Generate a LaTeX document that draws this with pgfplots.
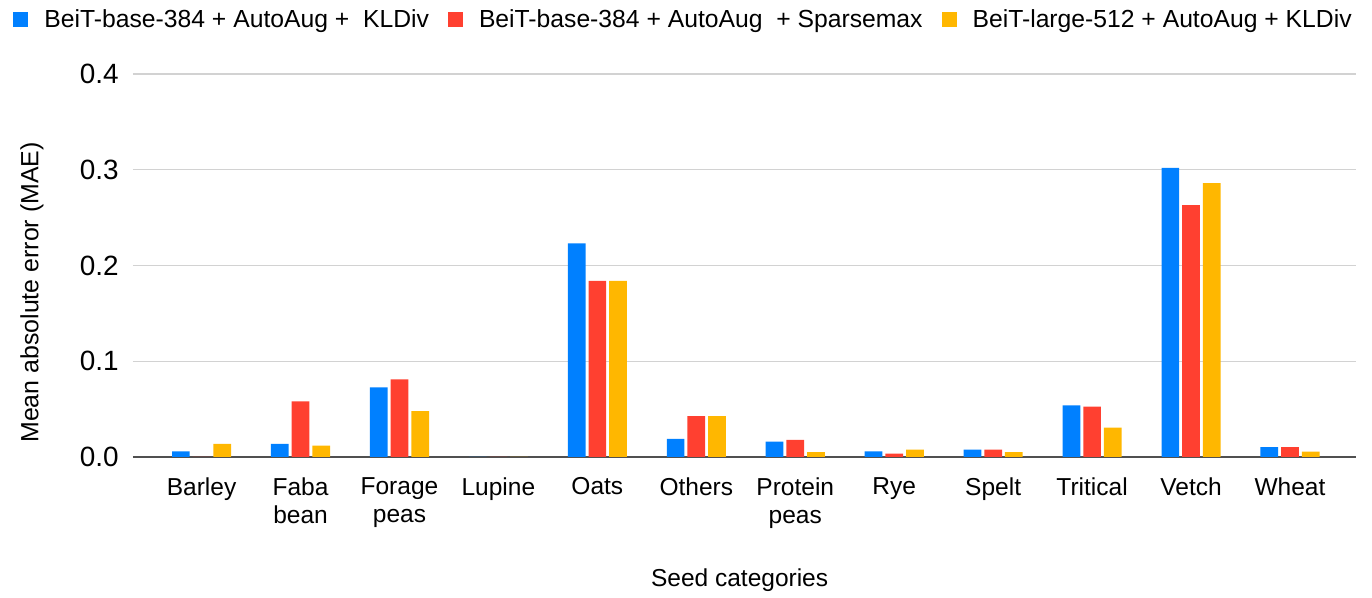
\documentclass[border=0pt]{standalone}
\usepackage{pgfplots}
\pgfplotsset{compat=1.18}
\usepackage{pgfplotstable}
\usepackage{fontspec}
\setmainfont{Liberation Sans}
\definecolor{cblue}{RGB}{0,128,255}
\definecolor{cred}{RGB}{255,64,48}
\definecolor{cyel}{RGB}{255,183,0}
\definecolor{gridc}{RGB}{210,210,210}
\definecolor{axc}{RGB}{80,80,80}
\pgfplotstableread{
idx blue red yel
0 0.006 0 0.0136
1 0.0136 0.058 0.0118
2 0.0727 0.081 0.048
3 0 0 0
4 0.223 0.184 0.184
5 0.019 0.0426 0.0426
6 0.016 0.0178 0.005
7 0.006 0.0035 0.0077
8 0.0077 0.0077 0.005
9 0.054 0.0527 0.0307
10 0.302 0.263 0.286
11 0.0102 0.0102 0.0057
}\datatable
\begin{document}
\begin{tikzpicture}
\begin{axis}[
  at={(0,0)}, anchor=south west,
  scale only axis, width=611.5bp, height=191.5bp,
  xmin=-0.693, xmax=11.667, ymin=0, ymax=0.4,
  axis x line*=bottom, axis y line*=left,
  y axis line style={draw=none},
  x axis line style={draw=axc, line width=0.8bp},
  major tick length=0pt,
  ytick={0,0.1,0.2,0.3,0.4},
  yticklabels={0.0,0.1,0.2,0.3,0.4},
  ymajorgrids, grid style={draw=gridc, line width=0.7bp},
  yticklabel style={font=\fontsize{14}{16}\selectfont, inner sep=0pt, xshift=-7bp},
  xtick={0,...,11},
  xticklabels={Barley,{Faba\\bean},{Forage\\peas},Lupine,Oats,Others,{Protein\\peas},Rye,Spelt,Tritical,Vetch,Wheat},
  xticklabel style={font=\fontsize{12.3}{14}\selectfont, align=center, inner sep=0pt, yshift=-10bp},
  xlabel={Seed categories},
  xlabel style={font=\fontsize{12.3}{14}\selectfont, at={(axis description cs:0.496,-0.321)}, anchor=center},
  ylabel={Mean absolute error (MAE)},
  ylabel style={font=\fontsize{12.5}{14}\selectfont, at={(axis description cs:-0.0826,0.4295)}, anchor=center},
  legend columns=3,
  legend style={draw=none, fill=none, at={(axis description cs:0.451,1.141)}, anchor=center,
    font=\fontsize{12.4}{14}\selectfont, inner xsep=0pt,
    /tikz/every odd column/.append style={column sep=6bp},
    /tikz/every even column/.append style={column sep=7.5bp}},
  legend cell align=left,
]
\addplot[ybar, bar width=0.179, bar shift=-0.209, fill=cblue, draw=none,
  legend image code/.code={\fill[cblue] (0bp,-3.75bp) rectangle (7.5bp,3.75bp);}]
  table[x=idx,y=blue]{\datatable};
\addlegendentry{BeiT-base-384 + AutoAug +\ \ KLDiv}
\addplot[ybar, bar width=0.179, bar shift=0, fill=cred, draw=none,
  legend image code/.code={\fill[cred] (0bp,-3.75bp) rectangle (7.5bp,3.75bp);}]
  table[x=idx,y=red]{\datatable};
\addlegendentry{BeiT-base-384 + AutoAug\ \ + Sparsemax}
\addplot[ybar, bar width=0.179, bar shift=0.209, fill=cyel, draw=none,
  legend image code/.code={\fill[cyel] (0bp,-3.75bp) rectangle (7.5bp,3.75bp);}]
  table[x=idx,y=yel]{\datatable};
\addlegendentry{BeiT-large-512 + AutoAug + KLDiv}
\end{axis}
\path (-66.5bp,-69bp) rectangle (619.5bp,228.5bp);
\end{tikzpicture}
\end{document}
